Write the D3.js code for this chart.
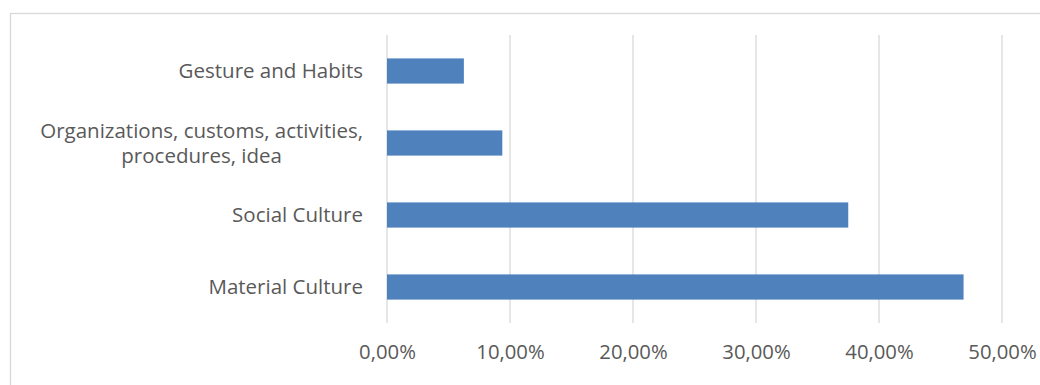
<!DOCTYPE html>
<html>
<head>
<meta charset="utf-8">
<script src="https://cdn.jsdelivr.net/npm/d3@7"></script>
<style>
  body { margin: 0; background: #fff; }
  svg { display: block; font-family: "Open Sans", sans-serif; }
  .axis text { fill: #595959; font-size: 20.3px; font-family: "Open Sans", sans-serif; }
  .grid line { stroke: #d9d9d9; stroke-width: 1.3; }
  .cat text { fill: #595959; font-size: 20.5px; }
</style>
</head>
<body>
<div class="chart"></div>
<script>
// values (share of items)
const categories = ['Gesture and Habits', 'Organizations, customs, activities, procedures, idea', 'Social Culture', 'Material Culture']
const shares = [0.0625, 0.09375, 0.375, 0.46875]
const xTicks = [0, 0.1, 0.2, 0.3, 0.4, 0.5]

const data = categories.map((c, i) => ({cat: c, value: shares[i]}))

const width = 1040, height = 385
const margin = {top: 35, right: 38, bottom: 62, left: 387}

let svg = d3.select('.chart').append('svg')
  .attr('width', width)
  .attr('height', height)

// chart frame, runs off the right and bottom edge like the original
svg.append('rect')
  .attr('x', 10.5).attr('y', 13.5)
  .attr('width', 1100).attr('height', 500)
  .attr('fill', 'none')
  .attr('stroke', '#d9d9d9')
  .attr('stroke-width', 1.3)

let x = d3.scaleLinear().domain([0, 0.5]).range([margin.left, width - margin.right])
let y = d3.scaleBand().domain(categories)
  .range([margin.top, height - margin.bottom])
  .paddingInner(0.65).paddingOuter(0.325)

const fmt = d => d3.format('.2f')(d * 100).replace('.', ',') + '%'

// gridlines
svg.append('g').attr('class', 'grid')
  .selectAll('line').data(xTicks).join('line')
  .attr('x1', d => x(d)).attr('x2', d => x(d))
  .attr('y1', margin.top).attr('y2', height - margin.bottom)

// x axis labels
svg.append('g')
  .attr('class', 'axis')
  .attr('transform', 'translate(0,' + (height - margin.bottom) + ')')
  .call(d3.axisBottom(x).tickValues(xTicks).tickFormat(fmt).tickSize(0).tickPadding(22))
  .call(g => g.select('.domain').remove())

// bars
svg.append('g').selectAll('rect').data(data).join('rect')
  .attr('x', x(0))
  .attr('y', d => y(d.cat))
  .attr('width', d => x(d.value) - x(0))
  .attr('height', y.bandwidth())
  .attr('fill', '#4f81bd')

// category labels, wrapped and centred like the spreadsheet does it
let labelRight = margin.left - 24
let cats = svg.append('g').attr('class', 'cat')

data.forEach(d => {
  let t = cats.append('text').attr('text-anchor', 'middle')
  let words = d.cat.split(' ')
  let lines = [], cur = []
  let probe = cats.append('text')
  words.forEach(w => {
    probe.text(cur.concat(w).join(' '))
    if (probe.node().getComputedTextLength() > 345 && cur.length) {
      lines.push(cur.join(' '))
      cur = [w]
    } else cur.push(w)
  })
  lines.push(cur.join(' '))
  let maxW = 0
  lines.forEach(l => {
    probe.text(l)
    maxW = Math.max(maxW, probe.node().getComputedTextLength())
  })
  probe.remove()
  let cx = labelRight - maxW / 2
  let cy = y(d.cat) + y.bandwidth() / 2
  let lh = 25
  lines.forEach((l, i) => {
    t.append('tspan')
      .attr('x', cx)
      .attr('y', cy + (i - (lines.length - 1) / 2) * lh)
      .attr('dy', '0.35em')
      .text(l)
  })
})
</script>
</body>
</html>
